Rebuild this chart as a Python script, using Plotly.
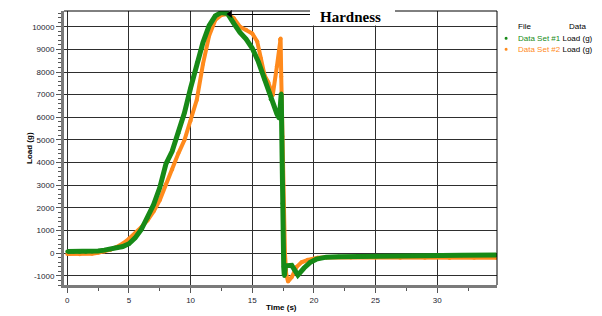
import plotly.graph_objects as go

# ---------------- data ----------------
t1 = [0, 0.5, 1, 1.5, 2, 2.5, 3, 3.5, 4, 4.5, 5, 5.5, 6, 6.5, 7, 7.5, 8, 8.5, 9, 9.5,
      10, 10.5, 11, 11.5, 12, 12.5, 13, 13.5, 14, 14.5, 15, 15.5, 16, 16.5, 17, 17.2,
      17.3, 17.35, 17.4, 17.42, 17.45, 17.47, 17.5, 17.55, 17.6, 17.7, 18.2, 18.4, 18.7,
      19.2, 19.7, 20.2, 21, 22, 24, 26, 28, 30, 32, 34.8]
load1 = [80, 80, 70, 70, 80, 100, 140, 180, 230, 300, 420, 680, 1050, 1550, 2150, 2900,
         3950, 4500, 5300, 6200, 7300, 8400, 9300, 10050, 10480, 10630, 10580, 10150, 9750,
         9450, 9050, 8450, 7650, 6800, 6150, 5950, 6500, 7050, 5000, 3600, 2200, 1000, 0,
         -600, -1000, -550, -530, -700, -960, -650, -400, -260, -170, -150, -130, -120,
         -110, -100, -90, -80]

t2 = [0, 1, 2, 2.5, 3, 3.5, 4, 4.5, 5, 5.5, 6, 6.5, 7, 7.5, 8, 8.5, 9, 9.5, 10, 10.5,
      11, 11.5, 12, 12.5, 13, 13.5, 14, 14.5, 15, 15.4, 15.7, 16, 16.3, 16.66, 17, 17.25,
      17.3, 17.35, 17.45, 17.5, 17.55, 17.65, 17.75, 17.9, 18.2, 18.6, 19.0, 19.5, 20.3,
      21, 23, 25, 27, 29, 31, 33, 34.8]
load2 = [-30, -40, -20, 20, 80, 160, 280, 430, 640, 880, 1150, 1450, 1850, 2350, 3050,
         3700, 4400, 5000, 5850, 6770, 8350, 9600, 10300, 10520, 10560, 10370, 10000, 9860,
         9700, 9350, 8600, 7850, 7550, 6980, 8250, 9420, 9480, 7800, 5150, 3050, 1050, 0,
         -900, -1250, -1050, -600, -400, -290, -200, -180, -190, -190, -200, -200, -210,
         -200, -200]

series_names = ["Data Set #1", "Data Set #2"]
data_label = "Load (g)"
x_title = "Time (s)"
y_title = "Load (g)"
x_ticks = [0, 5, 10, 15, 20, 25, 30]
y_ticks = [-1000, 0, 1000, 2000, 3000, 4000, 5000, 6000, 7000, 8000, 9000, 10000]
y_tick_text = [str(v) for v in y_ticks]
x_tick_text = [str(v) for v in x_ticks]

GREEN = "#178a17"
ORANGE = "#ff8a1c"
FONT = "Liberation Sans, Arial, sans-serif"
TICKCOL = "#1c1c30"

fig = go.Figure()
fig.add_trace(go.Scatter(x=t2, y=load2, mode="lines+markers", name=series_names[1],
                         line=dict(color=ORANGE, width=4),
                         marker=dict(color=ORANGE, size=4), showlegend=False))
fig.add_trace(go.Scatter(x=t1, y=load1, mode="lines+markers", name=series_names[0],
                         line=dict(color=GREEN, width=5),
                         marker=dict(color=GREEN, size=4), showlegend=False))
# hardness peak marker
fig.add_trace(go.Scatter(x=[13.2], y=[10560], mode="markers",
                         marker=dict(symbol="triangle-left", color="black", size=7),
                         showlegend=False, cliponaxis=False))

L, R, T, B = 64, 105, 11, 31
W, H = 602, 316
pw, ph = W - L - R, H - T - B

def px(xp):
    return (xp - L) / pw

def py(yp):
    return 1 - (yp - T) / ph

fig.update_layout(
    width=W, height=H, margin=dict(l=L, r=R, t=T, b=B),
    paper_bgcolor="white", plot_bgcolor="white",
    font=dict(family=FONT, size=8, color=TICKCOL),
    xaxis=dict(range=[-0.27, 34.85], tickvals=x_ticks, ticktext=x_tick_text, showgrid=True,
               gridcolor="#2e2e2e", gridwidth=1, zeroline=False,
               showline=True, linecolor="#7a7a7a", linewidth=3,
               ticks="outside", ticklen=5, tickcolor="#555", tickwidth=1,
               minor=dict(dtick=2.5, tick0=0, ticks="outside", ticklen=3,
                          tickcolor="#555", showgrid=False),
               tickfont=dict(size=8, color=TICKCOL, family=FONT)),
    yaxis=dict(range=[-1400, 10693], tickvals=y_ticks, ticktext=y_tick_text, showgrid=True,
               gridcolor="#2e2e2e", gridwidth=1, zeroline=False,
               showline=True, linecolor="#7a7a7a", linewidth=3,
               ticks="outside", ticklen=5, tickcolor="#555", tickwidth=1,
               minor=dict(dtick=200, tick0=0, ticks="outside", ticklen=3,
                          tickcolor="#555", showgrid=False),
               tickfont=dict(size=8, color=TICKCOL, family=FONT)),
    showlegend=False,
)

shapes = [
    dict(type="line", xref="paper", yref="paper", x0=0, x1=1, y0=1, y1=1,
         line=dict(color="black", width=1), layer="above"),
    dict(type="line", xref="paper", yref="paper", x0=1, x1=1, y0=0, y1=1,
         line=dict(color="black", width=1), layer="above"),
    dict(type="line", xref="x", yref="y", x0=13.3, x1=19.7, y0=10538, y1=10538,
         line=dict(color="black", width=1), layer="above"),
    dict(type="rect", xref="paper", yref="paper", x0=px(310), x1=px(395),
         y0=py(25.5), y1=py(7), fillcolor="white", line=dict(width=0), layer="above"),
]
for yp, col in [(38.3, GREEN), (49.3, ORANGE)]:
    shapes.append(dict(type="circle", xref="paper", yref="paper",
                       x0=px(504.6), x1=px(507.6), y0=py(yp + 1.5), y1=py(yp - 1.5),
                       fillcolor=col, line=dict(width=0), layer="above"))
fig.update_layout(shapes=shapes)

def A(text, xp, yp, size=8, family=FONT, xanchor="left", angle=0):
    return dict(text=text, x=px(xp), y=py(yp), xref="paper", yref="paper",
                xanchor=xanchor, yanchor="middle", textangle=angle, showarrow=False,
                font=dict(family=family, size=size, color="black"))

ann = [
    A("<b>Hardness</b>", 350, 17.5, size=15,
      family="Liberation Serif, Times New Roman, serif", xanchor="center"),
    A("<b>" + y_title + "</b>", 29, 148, xanchor="center", angle=-90),
    A("<b>" + x_title + "</b>", 281, 307.5, xanchor="center"),
    A("File", 515.5, 26.5),
    A("Data", 566.5, 26.5),
]
for name, col, yp in [(series_names[0], GREEN, 38.3), (series_names[1], ORANGE, 49.3)]:
    ann.append(A("<span style='color:%s'>%s</span> %s" % (col, name, data_label), 515.5, yp))
fig.update_layout(annotations=ann)

fig.write_html("out.html")
